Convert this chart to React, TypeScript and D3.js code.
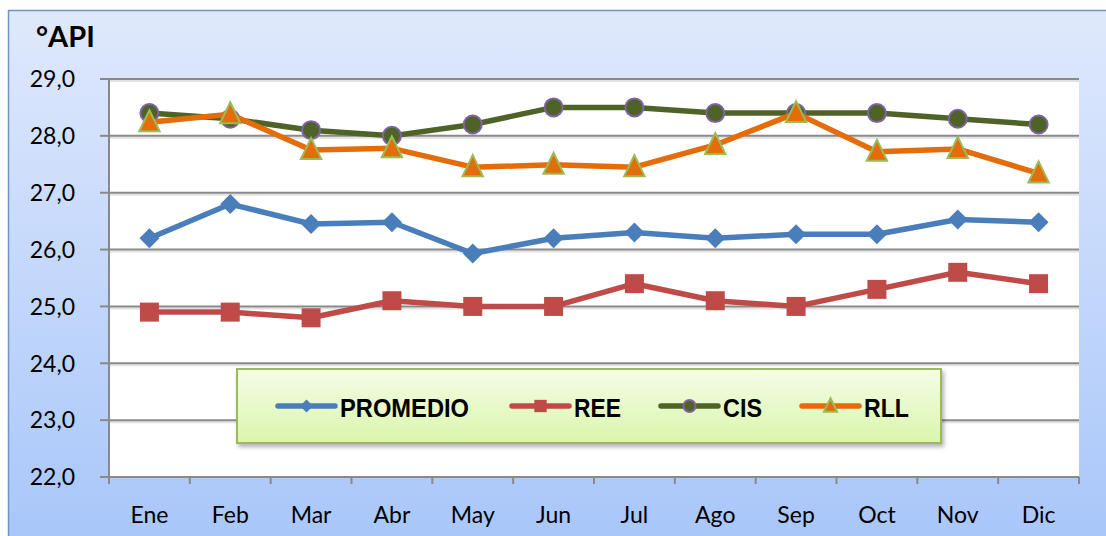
import * as d3 from 'd3';
import React from 'react';

const months = ['Ene', 'Feb', 'Mar', 'Abr', 'May', 'Jun', 'Jul', 'Ago', 'Sep', 'Oct', 'Nov', 'Dic'];
const promedio = [26.2, 26.8, 26.45, 26.48, 25.93, 26.2, 26.3, 26.2, 26.27, 26.27, 26.53, 26.48];
const ree = [24.9, 24.9, 24.8, 25.1, 25.0, 25.0, 25.4, 25.1, 25.0, 25.3, 25.6, 25.4];
const cis = [28.4, 28.3, 28.1, 28.0, 28.2, 28.5, 28.5, 28.4, 28.4, 28.4, 28.3, 28.2];
const rll = [28.24, 28.38, 27.75, 27.78, 27.45, 27.49, 27.45, 27.84, 28.4, 27.72, 27.77, 27.34];
const yTicks = [22, 23, 24, 25, 26, 27, 28, 29];

type Marker = 'diamond' | 'square' | 'circle' | 'triangle';
interface Series { name: string; values: number[]; color: string; fill: string; stroke: string; marker: Marker; }

const series: Series[] = [
  { name: 'PROMEDIO', values: promedio, color: '#4a7ebb', fill: '#4a7ebb', stroke: '#4a7ebb', marker: 'diamond' },
  { name: 'REE', values: ree, color: '#be4b48', fill: '#be4b48', stroke: '#be4b48', marker: 'square' },
  { name: 'CIS', values: cis, color: '#4f6228', fill: '#4f6228', stroke: '#8064a2', marker: 'circle' },
  { name: 'RLL', values: rll, color: '#e46c0a', fill: '#e46c0a', stroke: '#9bbb59', marker: 'triangle' },
];

const W = 1106;
const H = 536;
const plot = { left: 109, right: 1079, top: 79, bottom: 477 };
const numFont = 'Lato, Calibri, "Open Sans", sans-serif';
const legFont = '"Liberation Sans", Arial, sans-serif';

function markerPath(m: Marker, s: number): string | null {
  if (m === 'diamond') return `M0,${-s}L${s},0L0,${s}L${-s},0Z`;
  if (m === 'square') return `M${-s},${-s}H${s}V${s}H${-s}Z`;
  if (m === 'triangle') return `M0,${-s}L${s * 0.85},${s * 0.75}L${-s * 0.85},${s * 0.75}Z`;
  return null;
}

function MarkerShape({ s, x, y, size }: { s: Series; x: number; y: number; size: number }) {
  if (s.marker === 'circle') {
    return <circle cx={x} cy={y} r={size} fill={s.fill} stroke={s.stroke} strokeWidth={2} />;
  }
  return (
    <path
      d={markerPath(s.marker, size) as string}
      transform={`translate(${x},${y})`}
      fill={s.fill}
      stroke={s.stroke}
      strokeWidth={s.marker === 'triangle' ? 2 : 0}
      strokeLinejoin="miter"
    />
  );
}

const markerSize: Record<Marker, number> = { diamond: 10, square: 9.5, circle: 9, triangle: 12 };

export default function App() {
  const x = d3.scaleBand<string>().domain(months).range([plot.left, plot.right]);
  const y = d3.scaleLinear().domain([22, 29]).range([plot.bottom, plot.top]);
  const cx = (m: string) => (x(m) ?? 0) + x.bandwidth() / 2;
  const line = d3.line<number>().x((_, i) => cx(months[i])).y(d => y(d));

  const legendItems = [
    { s: series[0], lx: 278, tw: 129 },
    { s: series[1], lx: 512, tw: 47 },
    { s: series[2], lx: 661, tw: 39 },
    { s: series[3], lx: 802, tw: 45 },
  ];
  const legY = 406;

  return (
    <div style={{ position: 'absolute', left: 0, top: 0 }}>
      <svg width={W} height={H} style={{ display: 'block' }}>
        <defs>
          <linearGradient id="bg" x1="0" y1="0" x2="0" y2="1">
            <stop offset="0" stopColor="#dfe9fc" />
            <stop offset="1" stopColor="#a8c6fa" />
          </linearGradient>
          <linearGradient id="leg" x1="0" y1="0" x2="0" y2="1">
            <stop offset="0" stopColor="#f5fde8" />
            <stop offset="1" stopColor="#daf5ab" />
          </linearGradient>
          <filter id="sh" x="-5%" y="-20%" width="110%" height="150%">
            <feDropShadow dx="2" dy="3" stdDeviation="2" floodColor="#000" floodOpacity="0.3" />
          </filter>
        </defs>
        <rect x={8.5} y={10.5} width={W + 10} height={H} fill="url(#bg)" stroke="#6d93c9" strokeWidth={1.5} />
        <rect x={plot.left} y={plot.top} width={plot.right - plot.left} height={plot.bottom - plot.top} fill="#fff" />

        {yTicks.map(t => (
          <g key={t}>
            {t > 22 && (
              <>
                <line x1={plot.left} x2={plot.right} y1={y(t) + 2} y2={y(t) + 2} stroke="#e2e2e2" strokeWidth={2} />
                <line x1={plot.left} x2={plot.right} y1={y(t)} y2={y(t)} stroke="#898989" strokeWidth={2} />
              </>
            )}
            <line x1={plot.left - 9} x2={plot.left} y1={y(t)} y2={y(t)} stroke="#898989" strokeWidth={2} />
            <text x={75} y={y(t)} dy="0.36em" textAnchor="end" fontFamily={numFont} fontSize={23} fill="#000">
              {d3.format('.1f')(t).replace('.', ',')}
            </text>
          </g>
        ))}
        <line x1={plot.left} x2={plot.left} y1={plot.top} y2={plot.bottom} stroke="#898989" strokeWidth={2} />
        <line x1={plot.left - 9} x2={plot.right} y1={plot.bottom} y2={plot.bottom} stroke="#898989" strokeWidth={2} />
        {months.concat(['end']).map((m, i) => {
          const xx = i < months.length ? (x(m) ?? 0) : plot.right;
          return <line key={m} x1={xx} x2={xx} y1={plot.bottom} y2={plot.bottom + 7} stroke="#898989" strokeWidth={2} />;
        })}
        {months.map(m => (
          <text key={m} x={cx(m)} y={523} textAnchor="middle" fontFamily={numFont} fontSize={23} fill="#000">{m}</text>
        ))}

        <text x={36} y={47} fontFamily={numFont} fontWeight="bold" fontSize={29} fill="#000">°API</text>

        {series.map(s => (
          <g key={s.name}>
            <path d={line(s.values) ?? ''} fill="none" stroke={s.color} strokeWidth={5.5} strokeLinejoin="round" />
            {s.values.map((v, i) => (
              <MarkerShape key={i} s={s} x={cx(months[i])} y={y(v)} size={markerSize[s.marker]} />
            ))}
          </g>
        ))}

        <rect x={237} y={369} width={704} height={74} fill="url(#leg)" stroke="#9bbb59" strokeWidth={2} filter="url(#sh)" />
        {legendItems.map(({ s, lx, tw }) => (
          <g key={s.name}>
            <line x1={lx} x2={lx + 57} y1={legY} y2={legY} stroke={s.color} strokeWidth={5.5} strokeLinecap="round" />
            <MarkerShape s={s} x={lx + 28.5} y={legY} size={s.marker === 'circle' ? 6 : markerSize[s.marker] * 0.65} />
            <text x={lx + 62} y={416.5} fontFamily={legFont} fontWeight="bold" fontSize={25.5}
              textLength={tw} lengthAdjust="spacingAndGlyphs" fill="#000">{s.name}</text>
          </g>
        ))}
      </svg>
    </div>
  );
}
